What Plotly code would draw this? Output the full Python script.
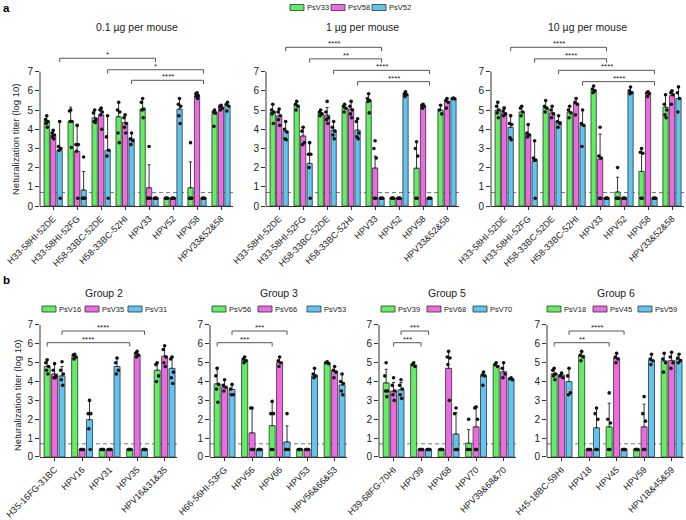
import plotly.graph_objects as go

# ---------------- data ----------------
LOD = 0.4                      # undetectable titer plotted at limit
F = [LOD, LOD, LOD, LOD, LOD]  # all mice at the limit
CUTOFF = 0.7                   # dashed detection line

A_CATS = ["H33-58HI-52DE", "H33-58HI-52FG", "H58-33BC-52DE", "H58-33BC-52HI",
          "HPV33", "HPV52", "HPV58", "HPV33&52&58"]
A_SERIES = ["PsV33", "PsV58", "PsV52"]
A_TITLES = ["0.1 µg per mouse", "1 µg per mouse", "10 µg per mouse"]

# 0.1 ug
A1_MEAN = [[4.4, 4.4, 4.6, 4.65, 5.05, 0.4, 0.95, 4.8],
           [3.7, 2.85, 4.75, 4.35, 0.95, 0.4, 5.75, 5.15],
           [2.9, 0.83, 2.9, 3.5, 0.4, 5.05, 0.4, 5.25]]
A1_SD = [[0.3, 0.75, 0.4, 0.75, 0.55, 0, 1.35, 0.2],
         [0.2, 1.4, 0.35, 0.4, 1.2, 0, 0.15, 0.1],
         [1.55, 0.97, 1.8, 0.3, 0, 0.55, 0, 0.15]]
A1_DOTS = [
    [[4.7, 4.5, 4.4, 4.3, 4.1], [5.0, 4.95, 4.4, 4.4, 3.05], [5.0, 4.85, 4.5, 4.4, 4.35],
     [5.4, 5.0, 4.9, 3.8, 3.3], [5.6, 5.4, 5.05, 5.0, 4.6], F, [3.3, 0.4, 0.4, 0.4, 0.4],
     [5.0, 4.9, 4.85, 4.15]],
    [[3.95, 3.8, 3.7, 3.6, 3.5], [4.2, 3.2, 3.2, 2.85, 0.4], [5.1, 5.0, 4.9, 4.75, 4.0],
     [4.75, 4.6, 4.3, 4.1, 3.8], [3.1, 0.4, 0.4, 0.4, 0.4], F, [5.9, 5.85, 5.75, 5.7, 5.6],
     [5.25, 5.2, 5.1, 5.0]],
    [[4.4, 3.1, 3.0, 2.9, 0.4], [2.55, 0.4, 0.4, 0.4, 0.4], [4.7, 3.6, 2.9, 2.6, 0.4],
     [3.8, 3.5, 3.4, 3.2], F, [5.6, 5.3, 5.2, 4.7, 4.3], F, [5.4, 5.3, 5.2, 4.95]],
]
A1_BR = [(0, 2, 4, 2, 7.7, "*"), (2, 2, 6, 2, 7.1, "*"), (3, 2, 6, 2, 6.55, "****")]

# 1 ug
A2_MEAN = [[4.88, 5.25, 4.85, 5.1, 5.45, 0.4, 1.97, 5.0],
           [4.7, 3.65, 4.73, 5.05, 1.98, 0.4, 5.2, 5.45],
           [3.9, 2.22, 3.95, 3.95, 0.4, 5.8, 0.4, 5.6]]
A2_SD = [[0.42, 0.2, 0.15, 0.2, 0.4, 0, 1.38, 0.25],
         [0.35, 0.45, 0.4, 0.4, 0.62, 0, 0.1, 0.15],
         [0.5, 1.08, 0.45, 0.6, 0, 0.15, 0, 0.03]]
A2_DOTS = [
    [[5.3, 5.0, 4.9, 4.8, 4.3], [5.45, 5.3, 5.2, 5.0], [5.0, 4.9, 4.8, 4.7], [5.3, 5.2, 5.1, 4.9],
     [5.85, 5.6, 5.5, 5.45, 4.85], F, [3.35, 3.0, 2.6, 0.4, 0.4], [5.25, 5.0, 4.8]],
    [[5.05, 4.9, 4.7, 4.5, 4.2], [4.1, 3.9, 3.3, 3.2], [5.45, 4.9, 4.6, 4.5, 4.3],
     [5.45, 5.2, 5.0, 4.8, 4.6], [3.4, 3.0, 2.5, 0.4, 0.4], F, [5.3, 5.25, 5.2, 5.1],
     [5.6, 5.5, 5.4, 5.1]],
    [[4.4, 4.0, 3.85, 3.5, 3.45], [3.3, 2.7, 2.7, 2.0, 0.4], [4.4, 4.1, 3.9, 3.7, 3.5],
     [4.55, 4.4, 3.8, 3.6, 3.5], F, [5.95, 5.85, 5.8, 5.7], F, [5.62, 5.6, 5.58]],
]
A2_BR = [(0, 2, 4, 2, 8.27, "****"), (1, 2, 4, 2, 7.67, "**"),
         (2, 2, 6, 2, 7.07, "****"), (3, 2, 6, 2, 6.48, "****")]

# 10 ug
A3_MEAN = [[5.0, 4.9, 5.1, 4.9, 6.05, 0.73, 1.8, 5.15],
           [4.85, 3.75, 4.85, 5.35, 2.45, 0.4, 5.9, 5.75],
           [4.1, 2.33, 4.4, 4.2, 0.4, 5.95, 0.4, 5.6]]
A3_SD = [[0.45, 0.3, 0.4, 0.3, 0.2, 0.77, 1.2, 0.65],
         [0.3, 0.5, 0.35, 0.3, 1.3, 0, 0.05, 0.25],
         [0.65, 1.07, 0.3, 0.8, 0, 0.25, 0, 0.65]]
A3_DOTS = [
    [[5.4, 5.2, 5.0, 4.85, 4.6], [5.2, 5.1, 4.9, 4.7], [5.5, 5.2, 5.1, 4.9], [5.2, 5.0, 4.85, 4.6],
     [6.25, 6.1, 6.0, 5.9], [2.0, 0.4, 0.4, 0.4, 0.4], [3.0, 2.8, 2.75, 0.4, 0.4],
     [5.8, 5.3, 5.0, 4.75, 4.6]],
    [[5.1, 4.95, 4.8, 4.7], [4.25, 3.8, 3.7, 3.6], [5.2, 5.0, 4.8, 4.6], [5.6, 5.4, 5.3, 4.75],
     [4.1, 2.6, 2.5, 0.4, 0.4], F, [5.95, 5.9, 5.85, 5.7], [6.0, 5.9, 5.8, 5.3]],
    [[4.7, 4.3, 4.25, 3.55, 3.45], [3.4, 2.5, 2.4, 2.4, 0.4], [4.7, 4.4, 4.3, 4.1],
     [5.0, 4.3, 4.2, 3.1], F, [6.2, 6.0, 5.9, 5.85], F, [6.2, 5.9, 5.6, 4.9]],
]
A3_BR = [(0, 2, 4, 2, 8.27, "****"), (1, 2, 4, 2, 7.67, "****"),
         (2, 2, 6, 2, 7.07, "****"), (3, 2, 6, 2, 6.48, "****")]

# Group 2
B1_TITLE = "Group 2"
B1_CATS = ["H35-16FG-31BC", "HPV16", "HPV31", "HPV35", "HPV16&31&35"]
B1_SERIES = ["PsV16", "PsV35", "PsV31"]
B1_MEAN = [[4.8, 5.3, 0.4, 0.4, 4.6], [4.4, 0.4, 0.4, 5.4, 5.35], [4.3, 1.98, 4.8, 0.4, 4.7]]
B1_SD = [[0.35, 0.15, 0, 0, 0.4], [0.55, 0, 0, 0.2, 0.55], [0.5, 1.07, 0.45, 0, 0.6]]
B1_DOTS = [
    [[5.15, 5.0, 4.8, 4.6, 4.4], [5.45, 5.4, 5.3, 5.2], F, F, [5.0, 4.9, 4.3, 4.0]],
    [[4.95, 4.6, 4.3, 4.2, 4.2], F, F, [5.6, 5.5, 5.4, 5.3], [5.9, 5.7, 5.3, 5.0, 4.8]],
    [[5.05, 4.6, 4.4, 4.1, 3.8], [3.0, 2.3, 2.3, 1.5, 0.4], [5.25, 5.0, 4.6, 4.4], F,
     [5.3, 5.2, 4.5, 4.2, 3.9]],
]
B1_BR = [(0, 2, 3, 2, 6.68, "****"), (0, 0, 3, 0, 6.06, "****")]

# Group 3
B2_TITLE = "Group 3"
B2_CATS = ["H66-56HI-53FG", "HPV56", "HPV66", "HPV53", "HPV56&66&53"]
B2_SERIES = ["PsV56", "PsV66", "PsV53"]
B2_MEAN = [[3.88, 5.15, 1.66, 0.4, 5.0], [3.7, 1.28, 5.0, 0.4, 4.55], [3.58, 0.4, 0.8, 4.3, 3.82]]
B2_SD = [[0.87, 0.15, 1.24, 0, 0.05], [0.4, 1.32, 0.3, 0, 0.25], [0.27, 0, 0.85, 0.4, 0.58]]
B2_DOTS = [
    [[4.7, 4.3, 3.85, 3.6, 2.9], [5.3, 5.2, 5.1, 5.0], [2.95, 2.3, 2.3, 0.4, 0.4], F, [5.05, 5.0, 4.95]],
    [[4.1, 3.8, 3.7, 3.5], [2.6, 2.6, 0.4, 0.4, 0.4], [5.3, 5.1, 5.0, 4.8], F, [4.8, 4.6, 4.5, 4.2]],
    [[3.85, 3.6, 3.3, 3.3], F, [2.3, 0.4, 0.4, 0.4], [4.7, 4.4, 4.3, 4.2], [4.4, 4.0, 3.9, 3.5, 3.3]],
]
B2_BR = [(0, 2, 2, 2, 6.68, "***"), (0, 0, 2, 0, 6.06, "***")]

# Group 5
B3_TITLE = "Group 5"
B3_CATS = ["H39-68FG-70HI", "HPV39", "HPV68", "HPV70", "HPV39&68&70"]
B3_SERIES = ["PsV39", "PsV68", "PsV70"]
B3_MEAN = [[3.93, 4.88, 0.4, 0.73, 4.85], [3.5, 0.4, 4.7, 1.6, 4.52], [3.57, 0.4, 1.22, 4.3, 4.15]]
B3_SD = [[0.72, 0.12, 0, 0.72, 0.15], [0.45, 0, 0.9, 1.1, 0.48], [0.38, 0, 1.13, 0.2, 0.05]]
B3_DOTS = [
    [[5.0, 4.3, 3.5, 3.5, 3.2], [5.0, 4.9, 4.8], F, [2.0, 0.4, 0.4, 0.4], [5.0, 4.9, 4.8]],
    [[4.2, 3.8, 3.5, 3.3, 3.0], F, [5.6, 5.3, 5.25, 4.9, 3.0], [2.65, 2.6, 2.0, 0.4, 0.4],
     [5.0, 4.7, 4.4, 4.2]],
    [[4.1, 3.8, 3.6, 3.3, 3.1], F, [2.6, 2.3, 0.4, 0.4, 0.4], [4.5, 4.35, 4.3, 3.8], [4.2, 4.15, 4.1]],
]
B3_BR = [(0, 2, 1, 2, 6.68, "***"), (0, 1, 1, 1, 6.06, "***")]

# Group 6
B4_TITLE = "Group 6"
B4_CATS = ["H45-18BC-59HI", "HPV18", "HPV45", "HPV59", "HPV18&45&59"]
B4_SERIES = ["PsV18", "PsV45", "PsV59"]
B4_MEAN = [[4.42, 5.38, 1.6, 0.4, 5.1], [4.35, 0.4, 5.25, 1.6, 5.12], [4.0, 1.55, 0.4, 5.12, 5.18]]
B4_SD = [[0.28, 0.22, 1.25, 0, 0.4], [0.1, 0, 0.25, 1.2, 0.43], [0.7, 1.05, 0, 0.33, 0.27]]
B4_DOTS = [
    [[4.7, 4.6, 4.4, 4.3, 4.1], [5.6, 5.4, 5.3, 5.1], [3.4, 2.0, 1.8, 0.4, 0.4], F, [5.5, 5.2, 5.0, 4.5]],
    [[4.45, 4.3, 4.2], F, [5.5, 5.3, 5.2, 5.0], [3.2, 2.3, 1.9, 0.4, 0.4], [5.55, 5.3, 5.0, 4.7]],
    [[4.7, 4.3, 3.4, 3.3], [2.6, 2.3, 2.0, 0.4, 0.4], F, [5.45, 5.2, 5.1, 4.9], [5.45, 5.25, 5.1, 5.0]],
]
B4_BR = [(0, 2, 2, 2, 6.68, "****"), (0, 0, 2, 0, 6.06, "**")]

Y_TITLE = "Neturalization titer (log 10)"
Y_TICKS = [0, 1, 2, 3, 4, 5, 6, 7]

# ---------------- styling / layout ----------------
W, H = 686, 520
COLORS = ["#62EE62", "#EE6AE4", "#5EC4F0"]
OFFS = [-0.27, 0.0, 0.27]
BAR_W = 0.22
JIT = [0.0, -0.05, 0.05, -0.025, 0.025, 0.0]
FONT = "Liberation Sans, Arial, Helvetica, sans-serif"
INK = "#222"
AXC = "#333"


def px(x):
    return x / W


def py(y):
    return 1 - y / H


PA = dict(y0=206, unit=19.19, yr=8.45, xr=(-0.55, 7.5), title_y=27, drop=0.2)
PB = dict(y0=457, unit=18.86, yr=7.05, xr=(-0.53, 4.45), title_y=293, drop=0.2)

SUBPLOTS = [
    dict(cats=A_CATS, series=A_SERIES, title=A_TITLES[0], mean=A1_MEAN, sd=A1_SD, dots=A1_DOTS,
         br=A1_BR, xd=(40, 233), p=PA, tx=136.5, leg=None),
    dict(cats=A_CATS, series=A_SERIES, title=A_TITLES[1], mean=A2_MEAN, sd=A2_SD, dots=A2_DOTS,
         br=A2_BR, xd=(266, 459), p=PA, tx=362.5, leg=None),
    dict(cats=A_CATS, series=A_SERIES, title=A_TITLES[2], mean=A3_MEAN, sd=A3_SD, dots=A3_DOTS,
         br=A3_BR, xd=(491, 684), p=PA, tx=587.5, leg=None),
    dict(cats=B1_CATS, series=B1_SERIES, title=B1_TITLE, mean=B1_MEAN, sd=B1_SD, dots=B1_DOTS,
         br=B1_BR, xd=(40, 177), p=PB, tx=104, leg=[42, 85, 128]),
    dict(cats=B2_CATS, series=B2_SERIES, title=B2_TITLE, mean=B2_MEAN, sd=B2_SD, dots=B2_DOTS,
         br=B2_BR, xd=(210, 347), p=PB, tx=278.5, leg=[212, 258, 307]),
    dict(cats=B3_CATS, series=B3_SERIES, title=B3_TITLE, mean=B3_MEAN, sd=B3_SD, dots=B3_DOTS,
         br=B3_BR, xd=(379, 516), p=PB, tx=447, leg=[381, 427, 473]),
    dict(cats=B4_CATS, series=B4_SERIES, title=B4_TITLE, mean=B4_MEAN, sd=B4_SD, dots=B4_DOTS,
         br=B4_BR, xd=(547, 684), p=PB, tx=616, leg=[547, 593, 638]),
]

fig = go.Figure()
layout = dict(width=W, height=H, autosize=False, margin=dict(l=0, r=0, t=0, b=0),
              paper_bgcolor="white", plot_bgcolor="white", showlegend=False,
              barmode="overlay", font=dict(family=FONT, color=INK))
shapes, annos = [], []


def legend_items(xs, yc, names):
    for s, (x, name) in enumerate(zip(xs, names)):
        shapes.append(dict(type="rect", xref="paper", yref="paper",
                           x0=px(x), x1=px(x + 14), y0=py(yc + 3), y1=py(yc - 3),
                           fillcolor=COLORS[s], line=dict(color=AXC, width=0.8)))
        annos.append(dict(xref="paper", yref="paper", x=px(x + 15), y=py(yc), text=name,
                          xanchor="left", yanchor="middle", showarrow=False,
                          font=dict(size=7.5, color=INK)))


for i, sp in enumerate(SUBPLOTS):
    n = i + 1
    xa = "x" if n == 1 else f"x{n}"
    ya = "y" if n == 1 else f"y{n}"
    p = sp["p"]
    ncat = len(sp["cats"])

    # bars with upward SD error bars
    for s in range(3):
        xs = [g + OFFS[s] for g in range(ncat)]
        sd = sp["sd"][s]
        fig.add_trace(go.Bar(
            x=xs, y=sp["mean"][s], width=BAR_W, xaxis=xa, yaxis=ya, name=sp["series"][s],
            marker=dict(color=COLORS[s], line=dict(color=AXC, width=0.8)),
            error_y=dict(type="data", symmetric=False,
                         array=[v if v > 0 else None for v in sd],
                         arrayminus=[0 if v > 0 else None for v in sd],
                         color="#333", thickness=1, width=1.5),
            hoverinfo="skip"))
    # individual mice
    for s in range(3):
        dx, dy = [], []
        for g, vals in enumerate(sp["dots"][s]):
            for k, v in enumerate(vals):
                dx.append(g + OFFS[s] + JIT[k % len(JIT)])
                dy.append(v)
        fig.add_trace(go.Scatter(x=dx, y=dy, mode="markers", xaxis=xa, yaxis=ya,
                                 marker=dict(size=3.6, color="#111"), cliponaxis=False,
                                 hoverinfo="skip"))
    # significance brackets
    for (ga, sa, gb, sb, lvl, lab) in sp["br"]:
        x0 = ga + OFFS[sa]
        x1 = gb + OFFS[sb]
        fig.add_trace(go.Scatter(x=[x0, x0, x1, x1], y=[lvl - p["drop"], lvl, lvl, lvl - p["drop"]],
                                 mode="lines", line=dict(color="#555", width=1),
                                 xaxis=xa, yaxis=ya, hoverinfo="skip"))
        annos.append(dict(x=(x0 + x1) / 2, y=lvl, xref=xa, yref=ya, text=lab, showarrow=False,
                          yanchor="bottom", yshift=-3, font=dict(size=8, color=INK)))

    ytop = p["y0"] - p["yr"] * p["unit"]
    layout["xaxis" if n == 1 else f"xaxis{n}"] = dict(
        domain=[px(sp["xd"][0]), px(sp["xd"][1])], range=list(p["xr"]), anchor=ya,
        tickmode="array", tickvals=list(range(ncat)), ticktext=sp["cats"], tickangle=-45,
        ticks="outside", ticklen=3, tickwidth=1, tickcolor=AXC,
        showline=True, linecolor=AXC, linewidth=1, showgrid=False, zeroline=False,
        tickfont=dict(size=9, color=INK), automargin=False, fixedrange=True)
    layout["yaxis" if n == 1 else f"yaxis{n}"] = dict(
        domain=[py(p["y0"]), py(ytop)], range=[0, p["yr"]], anchor=xa,
        tickmode="array", tickvals=Y_TICKS, ticks="outside", ticklen=4, tickwidth=1,
        tickcolor=AXC, showline=False, showgrid=False, zeroline=False,
        tickfont=dict(size=10, color=INK), automargin=False, fixedrange=True)

    # y axis line 0..7 and detection-limit dashed line
    shapes.append(dict(type="line", xref=f"{xa} domain", yref=ya, x0=0, x1=0, y0=0, y1=7,
                       line=dict(color=AXC, width=1)))
    shapes.append(dict(type="line", xref=f"{xa} domain", yref=ya, x0=0, x1=1, y0=CUTOFF, y1=CUTOFF,
                       line=dict(color="#777", width=1, dash="4px,3px"), layer="below"))

    # titles
    annos.append(dict(xref="paper", yref="paper", x=px(sp["tx"]), y=py(p["title_y"]),
                      text=sp["title"], showarrow=False, xanchor="center", yanchor="middle",
                      font=dict(size=10.5, color=INK)))
    if sp["leg"] is not None:
        legend_items(sp["leg"], 309, sp["series"])

# panel a legend
legend_items([290, 331, 372], 7.5, A_SERIES)

# y axis titles
annos.append(dict(xref="paper", yref="paper", x=px(16), y=py(140), text=Y_TITLE, textangle=-90,
                  showarrow=False, xanchor="center", yanchor="middle", font=dict(size=9.5, color=INK)))
annos.append(dict(xref="paper", yref="paper", x=px(17), y=py(396), text=Y_TITLE, textangle=-90,
                  showarrow=False, xanchor="center", yanchor="middle", font=dict(size=9.5, color=INK)))
# panel letters
annos.append(dict(xref="paper", yref="paper", x=px(1), y=1, text="<b>a</b>", showarrow=False,
                  xanchor="left", yanchor="top", font=dict(size=11.5, color="#000")))
annos.append(dict(xref="paper", yref="paper", x=px(1), y=py(280), text="<b>b</b>", showarrow=False,
                  xanchor="left", yanchor="middle", font=dict(size=11.5, color="#000")))

layout["shapes"] = shapes
layout["annotations"] = annos
fig.update_layout(**layout)
fig.write_html("out.html", config={"displayModeBar": False},
               post_script="document.body.style.margin='0';document.body.style.overflow='hidden';")
